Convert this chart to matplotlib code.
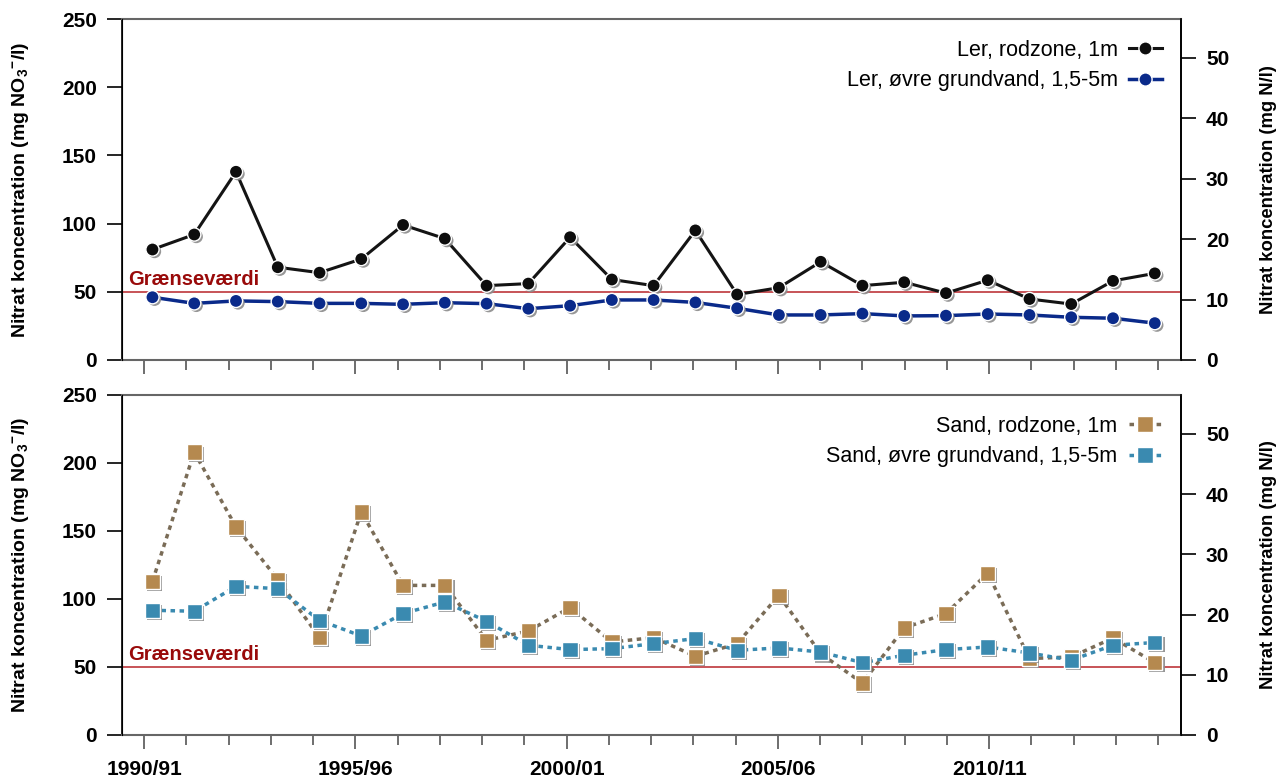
import numpy as np
import matplotlib
matplotlib.use('Agg')
import matplotlib.pyplot as plt
import matplotlib.patheffects as pe
from matplotlib.ticker import MultipleLocator, FixedLocator

plt.rcParams['font.family'] = ['Liberation Sans', 'DejaVu Sans']
plt.rcParams['mathtext.fontset'] = 'custom'
plt.rcParams['mathtext.rm'] = 'Liberation Sans:bold'
plt.rcParams['mathtext.it'] = 'Liberation Sans:bold'
plt.rcParams['mathtext.bf'] = 'Liberation Sans:bold'

# hydrological years 1990/91 .. 2014/15
years = ['1990/91', '1991/92', '1992/93', '1993/94', '1994/95', '1995/96', '1996/97',
         '1997/98', '1998/99', '1999/00', '2000/01', '2001/02', '2002/03', '2003/04',
         '2004/05', '2005/06', '2006/07', '2007/08', '2008/09', '2009/10', '2010/11',
         '2011/12', '2012/13', '2013/14', '2014/15']
tick_labels = ['1990/91', '1995/96', '2000/01', '2005/06', '2010/11']

# mg NO3/l
ler_rod = [81, 92, 138, 68, 64, 74, 99, 89, 54.5, 56, 90, 59, 54.5, 95, 48, 53,
           72, 54.5, 57, 49, 58.5, 44.7, 41, 58, 63.5]
ler_grund = [46, 41.5, 43.3, 42.8, 41.5, 41.5, 40.8, 42, 41.3, 37.6, 39.8, 44, 44,
             42.2, 37.9, 33, 33, 34, 32.3, 32.5, 33.7, 33, 31.3, 30.6, 27]
sand_rod = [113, 208, 153, 114.5, 71.6, 164, 110, 110, 69.6, 76.5, 93.7, 68.4, 71.6,
            57.9, 67.2, 102.7, 59.8, 38.2, 78.7, 89.3, 119, 56.2, 57.4, 71.3, 53.2]
sand_grund = [91.7, 91, 109.3, 107.6, 84.3, 72.8, 89.3, 97.8, 83.6, 66, 62.8, 63.5,
              67.2, 70.9, 62.3, 64, 61, 53.2, 58.6, 62.8, 64.7, 60.3, 55, 66, 68]
limit = 50
no3_to_n = 14.0 / 62.0

x_tick = np.arange(len(years))
x_pts = np.linspace(0.2, 23.92, len(years))

fig = plt.figure(figsize=(12.82, 7.8), dpi=100)
ax1 = fig.add_axes([0.0952, 0.5385, 0.826, 0.4371])
ax2 = fig.add_axes([0.0952, 0.0577, 0.826, 0.4359])

shadow = [pe.SimplePatchShadow(offset=(1.5, -1.5), shadow_rgbFace='#8c8c8c', alpha=0.9), pe.Normal()]


def series(ax, y, color, lcolor, ls, lw, marker, ms, label):
    ax.plot(x_pts, y, color=lcolor, ls=ls, lw=lw, zorder=3)
    ax.plot(x_pts, y, ls='none', marker=marker, ms=ms, mfc=color, mec='white', mew=1.0,
            zorder=4, path_effects=shadow)
    # legend proxy
    ax.plot([], [], color=lcolor, ls=ls, lw=lw, marker=marker, ms=ms, mfc=color,
            mec='white', mew=1.0, label=label)


series(ax1, ler_rod, '#0d0d0d', '#141414', '-', 2.2, 'o', 9.5, 'Ler, rodzone, 1m')
series(ax1, ler_grund, '#0a2a8a', '#0a2a8a', '-', 2.5, 'o', 9.5, 'Ler, øvre grundvand, 1,5-5m')
series(ax2, sand_rod, '#b5894f', '#7a6c57', (0, (1.3, 1.3)), 2.5, 's', 11, 'Sand, rodzone, 1m')
series(ax2, sand_grund, '#3a8ab0', '#3a8ab0', (0, (1.3, 1.3)), 2.5, 's', 11,
       'Sand, øvre grundvand, 1,5-5m')

for ax in (ax1, ax2):
    ax.axhline(limit, color='#b8242a', lw=1.1, zorder=2)
    ax.text(-0.38, limit + 2.0, 'Grænseværdi', color='#990a0a', fontsize=14.5,
            fontweight='bold', va='bottom', ha='left')
    ax.set_xlim(-0.52, 24.54)
    ax.set_ylim(0, 250)
    ax.yaxis.set_major_locator(MultipleLocator(50))
    ax.set_ylabel(r'Nitrat koncentration (mg NO$_3$$^{-}$/l)', fontsize=14,
                  fontweight='bold', labelpad=22)
    ax.xaxis.set_major_locator(FixedLocator([years.index(t) for t in tick_labels]))
    ax.xaxis.set_minor_locator(FixedLocator(x_tick))
    ax.tick_params(axis='y', direction='out', length=11, width=1.2, labelsize=15, pad=7)
    ax.tick_params(axis='x', which='major', direction='out', length=10, width=1.2,
                   color='#555555', labelsize=15, pad=8)
    ax.tick_params(axis='x', which='minor', direction='out', length=7, width=1.2,
                   color='#555555')
    for lab in ax.get_yticklabels() + ax.get_xticklabels():
        lab.set_fontweight('bold')
    for s in ('top', 'bottom'):
        ax.spines[s].set_color('#666666')
        ax.spines[s].set_linewidth(1.5)
    for s in ('left', 'right'):
        ax.spines[s].set_linewidth(1.2)

    axr = ax.twinx()
    axr.set_ylim(0, 250 * no3_to_n)
    axr.yaxis.set_major_locator(MultipleLocator(10))
    axr.tick_params(axis='y', direction='out', length=11, width=1.2, labelsize=15, pad=7)
    for lab in axr.get_yticklabels():
        lab.set_fontweight('bold')
    axr.set_ylabel('Nitrat koncentration (mg N/l)', fontsize=13.3, fontweight='bold',
                   labelpad=22)
    for s in ('top', 'bottom'):
        axr.spines[s].set_visible(False)
    axr.spines['right'].set_linewidth(1.2)

    leg = ax.legend(loc='upper right', frameon=False, markerfirst=False, fontsize=15.5,
                    handlelength=1.5, handletextpad=0.55, labelspacing=0.45,
                    borderaxespad=0.4, bbox_to_anchor=(0.998, 0.99))

ax1.set_xticklabels([])
ax2.set_xticklabels(tick_labels, fontweight='bold')

fig.savefig('out.png', dpi=100)
